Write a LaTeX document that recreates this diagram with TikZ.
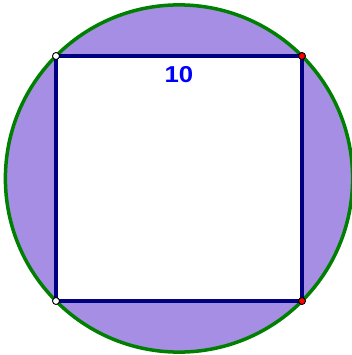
\documentclass[tikz,border=0pt]{standalone}
\usepackage{fontspec}
\setmainfont{Liberation Sans}
\definecolor{fillpurple}{RGB}{166,142,228}
\definecolor{circgreen}{RGB}{0,128,0}
\definecolor{sqblue}{RGB}{0,0,128}
\definecolor{txtblue}{RGB}{0,0,255}
\begin{document}
\begin{tikzpicture}[x=1pt,y=-1pt,
  pt/.style={circle,draw=black,line width=0.9pt,inner sep=0pt,minimum size=7pt},
  whitept/.style={pt,fill=white},
  redpt/.style={pt,fill=red}]
\useasboundingbox (0,0) rectangle (352,355);
\coordinate (O) at (179,178.5);
\fill[fillpurple] (O) circle[radius=173.6];
\fill[white] (56,56) rectangle (302,301);
\draw[circgreen,line width=3.5pt] (O) circle[radius=173.6];
\coordinate (A) at (56,56);
\coordinate (B) at (302,56);
\coordinate (C) at (302,301);
\coordinate (D) at (56,301);
\draw[sqblue,line width=3.5pt,line join=miter] (A) -- (B) -- (C) -- (D) -- cycle;
\node[whitept] (pa) at (A) {};
\node[redpt] (pb) at (B) {};
\node[redpt] (pc) at (C) {};
\node[whitept] (pd) at (D) {};
\node[font=\bfseries\fontsize{23}{25}\selectfont,text=txtblue,inner sep=0pt] (lbl) at (179,74.5) {\scalebox{1.12}[1]{10}};
\end{tikzpicture}
\end{document}
